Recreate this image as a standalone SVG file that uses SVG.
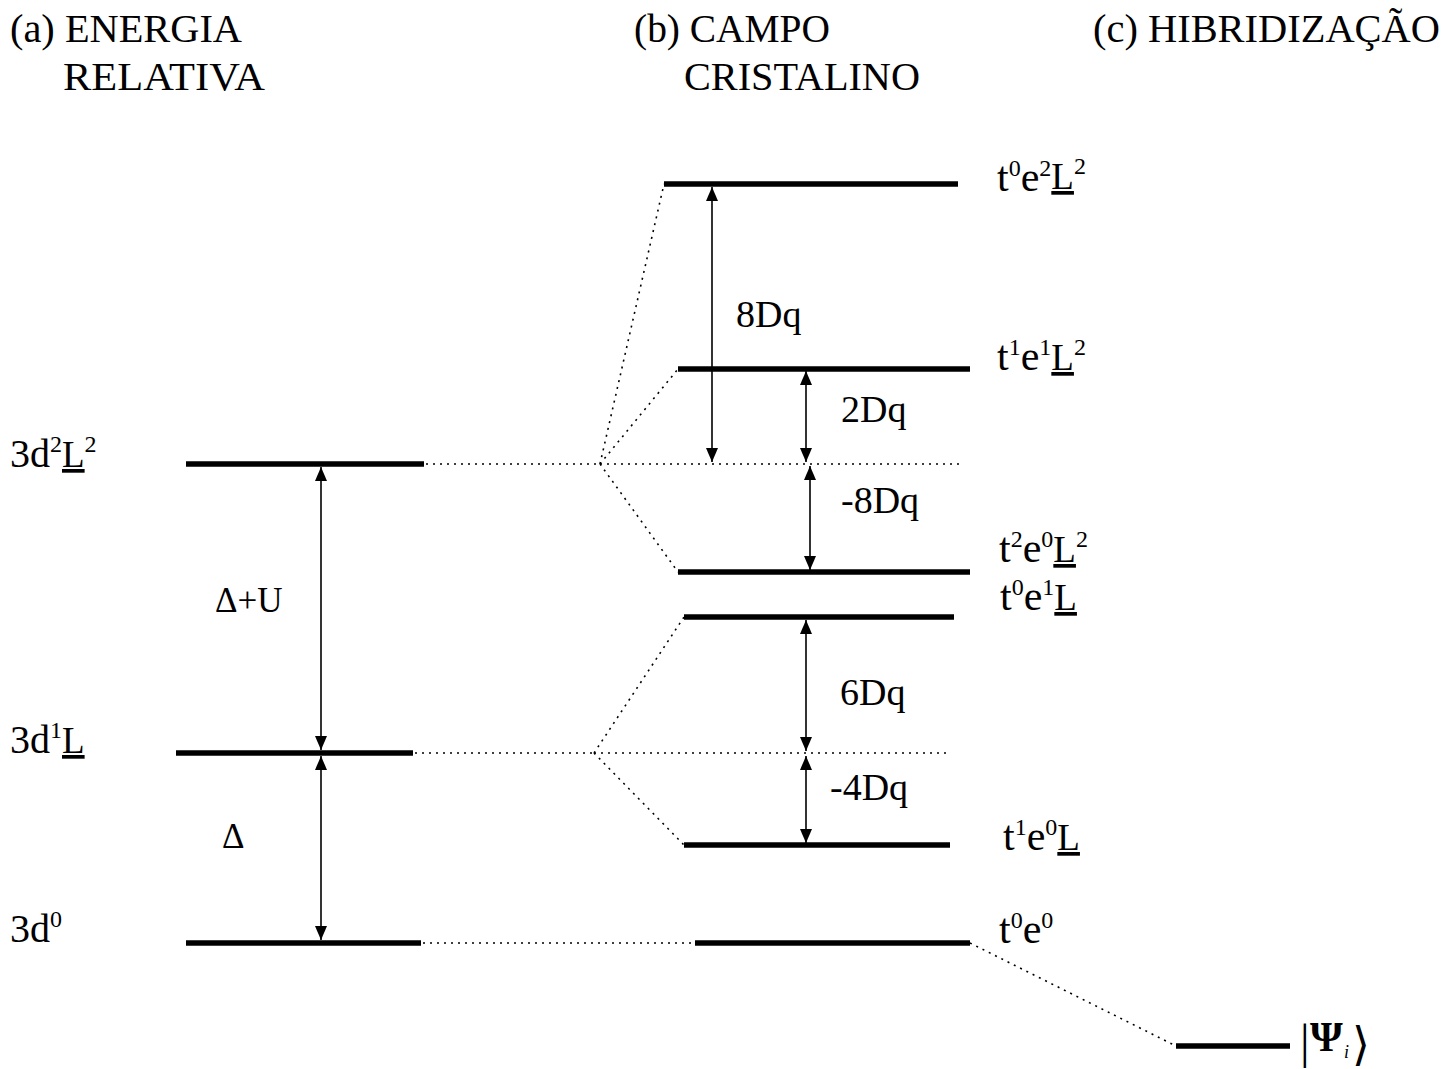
<svg xmlns="http://www.w3.org/2000/svg" width="1454" height="1069" viewBox="0 0 1454 1069">
<style>
  text { font-family: "Liberation Serif", "DejaVu Serif", serif; fill: #000; }
  .hdr { font-size: 40px; }
  .big { font-size: 42px; }
  .lft { font-size: 40px; }
  .sup { font-size: 24px; }
  .L { font-size: 37px; text-decoration: underline; }
  .gap { font-size: 38px; }
  .lvl { stroke: #000; stroke-width: 5.5; stroke-linecap: butt; }
  .dot { stroke: #000; stroke-width: 1.6; stroke-dasharray: 2 5; fill: none; }
  .arr { stroke: #000; stroke-width: 1.6; fill: none; marker-start: url(#ah); marker-end: url(#ah); }
</style>
<defs>
  <marker id="ah" viewBox="0 0 14 12" refX="14" refY="6" markerWidth="14" markerHeight="12" markerUnits="userSpaceOnUse" orient="auto-start-reverse">
    <path d="M0,0 L14,6 L0,12 z" fill="#000"/>
  </marker>
</defs>
<rect width="1454" height="1069" fill="#fff"/>

<g id="headers">
  <text class="hdr" x="10" y="42" textLength="232" lengthAdjust="spacingAndGlyphs">(a) ENERGIA</text>
  <text class="hdr" x="63" y="90" textLength="202" lengthAdjust="spacingAndGlyphs">RELATIVA</text>
  <text class="hdr" x="634" y="42" textLength="196" lengthAdjust="spacingAndGlyphs">(b) CAMPO</text>
  <text class="hdr" x="684" y="90" textLength="236" lengthAdjust="spacingAndGlyphs">CRISTALINO</text>
  <text class="hdr" x="1093" y="42" textLength="347" lengthAdjust="spacingAndGlyphs">(c) HIBRIDIZAÇÃO</text>
</g>

<g id="connectors">
  <!-- dotted links -->
  <line class="dot" x1="426" y1="464" x2="600" y2="464"/>
  <line class="dot" x1="600" y1="464" x2="960" y2="464"/>
  <line class="dot" x1="600" y1="464" x2="664" y2="184"/>
  <line class="dot" x1="600" y1="464" x2="678" y2="369"/>
  <line class="dot" x1="600" y1="464" x2="678" y2="572"/>
  <line class="dot" x1="415" y1="753" x2="594" y2="753"/>
  <line class="dot" x1="594" y1="753" x2="950" y2="753"/>
  <line class="dot" x1="594" y1="753" x2="684" y2="617"/>
  <line class="dot" x1="594" y1="753" x2="684" y2="845"/>
  <line class="dot" x1="423" y1="943" x2="695" y2="943"/>
  <line class="dot" x1="970" y1="943" x2="1176" y2="1046"/>
  <!-- double arrows -->
  <line class="arr" x1="321" y1="467" x2="321" y2="750"/>
  <line class="arr" x1="321" y1="756" x2="321" y2="940"/>
  <line class="arr" x1="712" y1="187" x2="712" y2="462"/>
  <line class="arr" x1="806" y1="371" x2="806" y2="462"/>
  <line class="arr" x1="810" y1="466" x2="810" y2="570"/>
  <line class="arr" x1="806" y1="620" x2="806" y2="751"/>
  <line class="arr" x1="806" y1="756" x2="806" y2="843"/>
</g>

<g id="gap-labels">
  <text class="gap" x="215" y="612" style="font-size:35px">Δ+U</text>
  <text class="gap" x="222" y="848" style="font-size:35px">Δ</text>
  <text class="gap" x="736" y="327">8Dq</text>
  <text class="gap" x="841" y="422">2Dq</text>
  <text class="gap" x="841" y="513">-8Dq</text>
  <text class="gap" x="840" y="705">6Dq</text>
  <text class="gap" x="830" y="800">-4Dq</text>
</g>

<g id="n-3d2L2">
  <line class="lvl" x1="186" y1="464" x2="424" y2="464"/>
  <text class="lft" x="10" y="467">3d<tspan class="sup" dy="-15">2</tspan><tspan class="L" dy="15">L</tspan><tspan class="sup" dy="-15">2</tspan></text>
</g>
<g id="n-3d1L">
  <line class="lvl" x1="176" y1="753" x2="413" y2="753"/>
  <text class="lft" x="10" y="753">3d<tspan class="sup" dy="-15">1</tspan><tspan class="L" dy="15">L</tspan></text>
</g>
<g id="n-3d0">
  <line class="lvl" x1="186" y1="943" x2="421" y2="943"/>
  <text class="lft" x="10" y="942">3d<tspan class="sup" dy="-15">0</tspan></text>
</g>

<g id="n-t0e2L2">
  <line class="lvl" x1="664" y1="184" x2="958" y2="184"/>
  <text class="big" x="997" y="191">t<tspan class="sup" dy="-15">0</tspan><tspan dy="15">e</tspan><tspan class="sup" dy="-15">2</tspan><tspan class="L" dy="13">L</tspan><tspan class="sup" dy="-15">2</tspan></text>
</g>
<g id="n-t1e1L2">
  <line class="lvl" x1="678" y1="369" x2="970" y2="369"/>
  <text class="big" x="997" y="370">t<tspan class="sup" dy="-15">1</tspan><tspan dy="15">e</tspan><tspan class="sup" dy="-15">1</tspan><tspan class="L" dy="15">L</tspan><tspan class="sup" dy="-15">2</tspan></text>
</g>
<g id="n-t2e0L2">
  <line class="lvl" x1="678" y1="572" x2="970" y2="572"/>
  <text class="big" x="999" y="562">t<tspan class="sup" dy="-15">2</tspan><tspan dy="15">e</tspan><tspan class="sup" dy="-15">0</tspan><tspan class="L" dy="15">L</tspan><tspan class="sup" dy="-15">2</tspan></text>
</g>
<g id="n-t0e1L">
  <line class="lvl" x1="684" y1="617" x2="954" y2="617"/>
  <text class="big" x="1000" y="610">t<tspan class="sup" dy="-15">0</tspan><tspan dy="15">e</tspan><tspan class="sup" dy="-15">1</tspan><tspan class="L" dy="15">L</tspan></text>
</g>
<g id="n-t1e0L">
  <line class="lvl" x1="684" y1="845" x2="950" y2="845"/>
  <text class="big" x="1003" y="850">t<tspan class="sup" dy="-15">1</tspan><tspan dy="15">e</tspan><tspan class="sup" dy="-15">0</tspan><tspan class="L" dy="15">L</tspan></text>
</g>
<g id="n-t0e0">
  <line class="lvl" x1="695" y1="943" x2="970" y2="943"/>
  <text class="big" x="999" y="943">t<tspan class="sup" dy="-15">0</tspan><tspan dy="15">e</tspan><tspan class="sup" dy="-15">0</tspan></text>
</g>
<g id="n-psi">
  <line class="lvl" x1="1176" y1="1046" x2="1290" y2="1046"/>
  <text x="1300" y="1058" style="font-size:48px">|</text>
  <text x="1310" y="1051" style="font-size:42px; font-weight:bold">Ψ</text>
  <text x="1344" y="1058" style="font-size:18px; font-style:italic">i</text>
  <text x="1352" y="1060" style="font-size:46px; font-family: 'DejaVu Serif', 'DejaVu Sans', serif">⟩</text>
</g>
</svg>
